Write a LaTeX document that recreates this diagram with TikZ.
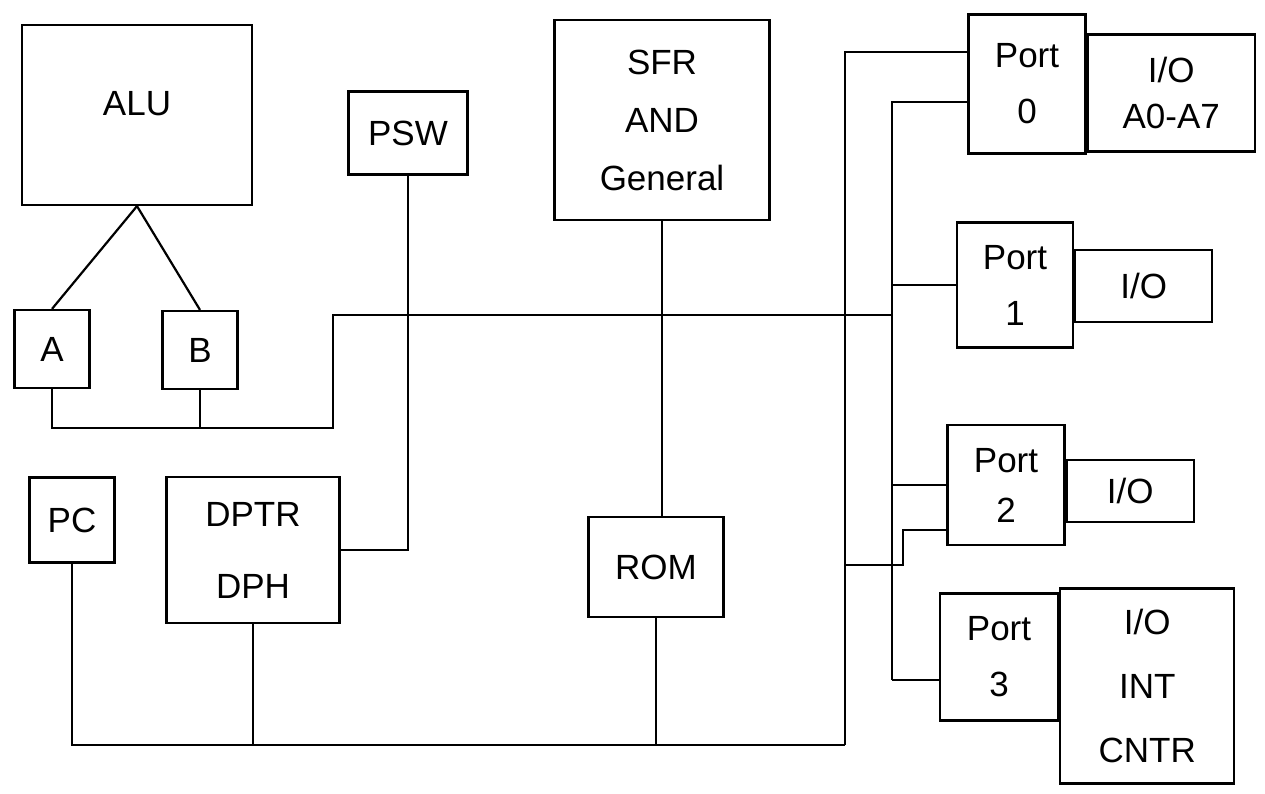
\documentclass[tikz,border=0pt]{standalone}
\usepackage{fontspec}
\setmainfont{Liberation Sans}
\begin{document}
\begin{tikzpicture}[x=1pt,y=-1pt,
  box/.style={draw,line width=2.2pt,align=center,font=\fontsize{35}{46}\selectfont,inner sep=0pt},
  wire/.style={line width=2.2pt}]
\useasboundingbox (0,0) rectangle (1265,793);
% left part
\node[box,minimum width=230,minimum height=180] (alu) at (137,115) {ALU\\[-22pt]};
\node[box,minimum width=119,minimum height=83] (psw) at (408,133) {PSW};
\node[box,minimum width=75,minimum height=78] (a) at (52,349) {A};
\node[box,minimum width=75,minimum height=78] (b) at (200,350) {B};
\node[box,minimum width=85,minimum height=85] (pc) at (72,520) {PC};
\node[box,minimum width=173,minimum height=146] (dptr) at (253,550) {DPTR\\[26pt]DPH};
% middle
\node[box,minimum width=215,minimum height=200] (sfr) at (662,120) {SFR\\[12pt]AND\\[12pt]General};
\node[box,minimum width=135,minimum height=100] (rom) at (656,567) {ROM};
% ports
\node[box,minimum width=117,minimum height=139] (p0) at (1027,84) {Port\\[10pt]0};
\node[box,minimum width=167,minimum height=117,anchor=west] (io0) at (p0.east |- 0,93) {I/O\\A0-A7};
\node[box,minimum width=116,minimum height=125] (p1) at (1015,285) {Port\\[10pt]1};
\node[box,minimum width=137,minimum height=72,anchor=west] (io1) at (p1.east |- 0,286) {I/O};
\node[box,minimum width=117,minimum height=120] (p2) at (1006,485) {Port\\[4pt]2};
\node[box,minimum width=127,minimum height=62,anchor=west] (io2) at (p2.east |- 0,491) {I/O};
\node[box,minimum width=118,minimum height=127] (p3) at (999,657) {Port\\[10pt]3};
\node[box,minimum width=174,minimum height=195,anchor=west] (io3) at (p3.east |- 0,686) {I/O\\[18pt]INT\\[18pt]CNTR};
% bus coordinates
\coordinate (obtop) at (845,52);
\coordinate (obbot) at (845,745);
\coordinate (ibtop) at (892,102);
\coordinate (ibbot) at (892,680);
\coordinate (abR) at (333,428);
\coordinate (abT) at (333,315);
\coordinate (s2a) at (903,530);
\coordinate (s2b) at (903,565);
% connectors
\draw[wire] (alu.south) -- (a.north);
\draw[wire] (alu.south) -- (b.north);
\draw[wire] (a.south) |- (abR) -- (abT) -- (abT -| ibtop);
\draw[wire] (b.south) -- (b.south |- abR);
\draw[wire] (psw.south) |- (dptr.east);
\draw[wire] (sfr.south) -- (sfr.south |- rom.north);
\draw[wire] (pc.south) |- (obbot);
\draw[wire] (dptr.south) -- (dptr.south |- obbot);
\draw[wire] (rom.south) -- (rom.south |- obbot);
\draw[wire] (obbot) -- (obtop) -- (p0.west |- obtop);
\draw[wire] (ibbot) -- (ibtop) -- (p0.west |- ibtop);
\draw[wire] (ibbot) -- (p3.west |- ibbot);
\draw[wire] (p1.west) -- (p1.west -| ibtop);
\draw[wire] (p2.west) -- (p2.west -| ibtop);
\draw[wire] (p2.west |- s2a) -- (s2a) -- (s2b) -- (s2b -| obtop);
\end{tikzpicture}
\end{document}
